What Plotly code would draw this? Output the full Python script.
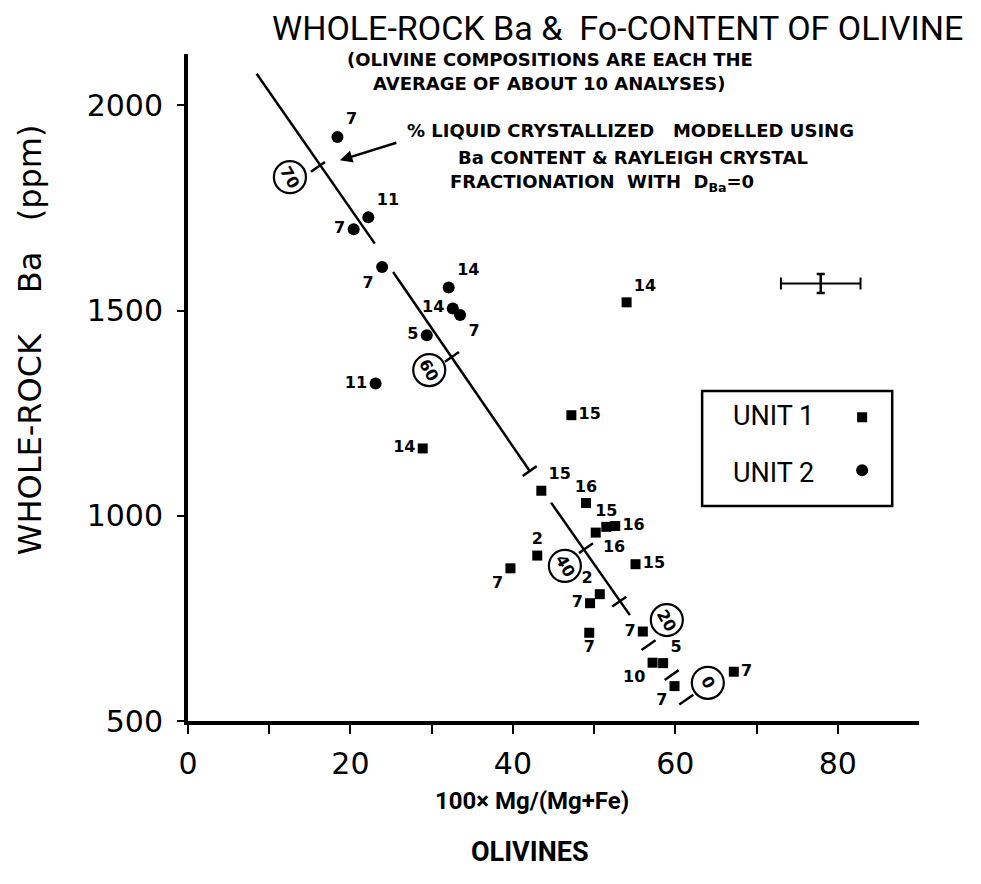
import plotly.graph_objects as go

# ---- data -------------------------------------------------------------
# Unit 1 samples (squares): olivine Fo content vs whole-rock Ba, with sample labels
unit1_fo = [54.0, 47.2, 28.9, 43.5, 49.0, 50.2, 51.5, 52.6, 43.0, 39.7,
            55.1, 50.7, 49.5, 49.4, 56.0, 57.2, 58.5, 59.9, 67.2]
unit1_ba = [1520, 1245, 1164, 1061, 1031, 959, 973, 975, 903, 872,
            882, 809, 787, 715, 718, 642, 641, 585, 620]
unit1_lbl = ["14", "15", "14", "15", "16", "16", "15", "16", "2", "7",
             "15", "2", "7", "7", "7", "10", "5", "7", "7"]

# Unit 2 samples (circles)
unit2_fo = [18.4, 22.2, 20.4, 23.9, 32.1, 32.6, 33.5, 29.4, 23.1]
unit2_ba = [1923, 1727, 1698, 1606, 1556, 1505, 1489, 1440, 1322]
unit2_lbl = ["7", "11", "7", "7", "14", "14", "7", "5", "11"]

# Rayleigh fractionation model (D_Ba = 0), drawn in three pieces
model_fo = [8.45, 23.0, None, 25.25, 42.07, None, 44.7, 54.4]
model_ba = [2077, 1663, None, 1594, 1109, None, 1032, 758]

# % liquid crystallized ticks along the model line
pct_steps = [70, 60, 50, 40, 30, 20, 10, 0]
pct_fo = [16.0, 32.5, 42.07, 49.0, 53.1, 56.7, 59.55, 61.35]
pct_ba = [1850, 1387, 1109, 921, 791, 685, 612, 552]

# circled labels for selected steps
circ_pct = ["70", "60", "40", "20", "0"]
circ_fo = [12.55, 29.7, 46.4, 58.95, 64.0]
circ_ba = [1825, 1355, 878, 746, 593]

# typical analytical uncertainty
err_fo, err_ba = 77.9, 1566
err_dfo, err_dba = 4.9, 23

x_ticks = [0, 20, 40, 60, 80]
y_ticks = [500, 1000, 1500, 2000]

# ---- placement of sample labels -------------------------------------
unit1_pos = ["top right", "middle right", "middle left", "top right", "top center",
             "bottom right", "top center", "middle right", "top center", "bottom left",
             "middle right", "top left", "middle left", "bottom center", "middle left",
             "bottom left", "top right", "bottom left", "middle right"]
unit2_pos = ["top right", "top right", "middle left", "bottom left", "top right",
             "middle left", "bottom right", "middle left", "middle left"]

LABEL_FONT = dict(family="DejaVu Sans", size=16, color="black", weight="bold")
SANS = "Roboto"
BOLD = "DejaVu Sans"


def txt(x, y, text, font, **kw):
    """Centered text annotation in paper coordinates."""
    d = dict(x=x, y=y, xref="paper", yref="paper", text=text, showarrow=False,
             xanchor="center", yanchor="middle", font=font)
    d.update(kw)
    return d


fig = go.Figure()

fig.add_trace(go.Scatter(
    x=model_fo, y=model_ba, mode="lines",
    line=dict(color="black", width=2.5), hoverinfo="skip", showlegend=False))

fig.add_trace(go.Scatter(
    x=unit1_fo, y=unit1_ba, mode="markers+text", name="UNIT 1",
    marker=dict(symbol="square", size=10, color="black"),
    text=unit1_lbl, textposition=unit1_pos, textfont=LABEL_FONT, showlegend=False))

fig.add_trace(go.Scatter(
    x=unit2_fo, y=unit2_ba, mode="markers+text", name="UNIT 2",
    marker=dict(symbol="circle", size=12, color="black"),
    text=unit2_lbl, textposition=unit2_pos, textfont=LABEL_FONT, showlegend=False))

fig.add_trace(go.Scatter(
    x=[err_fo], y=[err_ba], mode="markers",
    marker=dict(size=1, color="rgba(0,0,0,0)"),
    error_x=dict(type="constant", value=err_dfo, color="black", thickness=2, width=6),
    error_y=dict(type="constant", value=err_dba, color="black", thickness=2.5, width=4),
    hoverinfo="skip", showlegend=False))

shapes = []
# perpendicular tick marks on the model line
for fx, by in zip(pct_fo, pct_ba):
    shapes.append(dict(type="line", xref="x", yref="y",
                       xsizemode="pixel", ysizemode="pixel",
                       xanchor=fx, yanchor=by,
                       x0=-7, x1=7, y0=-4.9, y1=4.9,
                       line=dict(color="black", width=2.5)))

annotations = []
# circled percentage labels
for t, cx, cy in zip(circ_pct, circ_fo, circ_ba):
    shapes.append(dict(type="circle", xref="x", yref="y",
                       xsizemode="pixel", ysizemode="pixel",
                       xanchor=cx, yanchor=cy,
                       x0=-16, x1=16, y0=-16, y1=16,
                       line=dict(color="black", width=2.2)))
    annotations.append(dict(x=cx, y=cy, xref="x", yref="y", text="<b>" + t + "</b>",
                            showarrow=False, xanchor="center", yanchor="middle",
                            textangle=60, font=dict(family=BOLD, size=16, color="black")))

# key box
shapes.append(dict(type="rect", xref="x", yref="y", x0=63.3, x1=86.7, y0=1024, y1=1304,
                   line=dict(color="black", width=2.5)))
shapes.append(dict(type="rect", xref="x", yref="y", xsizemode="pixel", ysizemode="pixel",
                   xanchor=83.0, yanchor=1240, x0=-5, x1=5, y0=-5, y1=5,
                   fillcolor="black", line=dict(width=0)))
shapes.append(dict(type="circle", xref="x", yref="y", xsizemode="pixel", ysizemode="pixel",
                   xanchor=83.0, yanchor=1111, x0=-6, x1=6, y0=-6, y1=6,
                   fillcolor="black", line=dict(width=0)))
annotations += [
    dict(x=66.9, y=1243, xref="x", yref="y", text="UNIT 1", showarrow=False,
         xanchor="left", yanchor="middle", font=dict(family=SANS, size=27, color="black")),
    dict(x=66.9, y=1104, xref="x", yref="y", text="UNIT 2", showarrow=False,
         xanchor="left", yanchor="middle", font=dict(family=SANS, size=27, color="black")),
]

# titles
sub_font = dict(family=BOLD, size=18, color="black")
annotations += [
    txt(0.588, 1.0384, "WHOLE-ROCK Ba &amp;\u00a0\u00a0Fo-CONTENT OF OLIVINE",
        dict(family=SANS, size=34, color="black")),
    txt(0.495, 0.9925, "<b>(OLIVINE COMPOSITIONS ARE EACH THE</b>", sub_font),
    txt(0.494, 0.9551, "<b>AVERAGE OF ABOUT 10 ANALYSES)</b>", sub_font),
]

# model note with arrow
note_font = dict(family=BOLD, size=18, color="black")
annotations += [
    txt(0.605, 0.885, "<b>%\u00a0LIQUID CRYSTALLIZED\u00a0\u00a0\u00a0MODELLED USING</b>", note_font),
    txt(0.609, 0.845, "<b>Ba CONTENT &amp; RAYLEIGH CRYSTAL</b>", note_font),
    txt(0.566, 0.806, "<b>FRACTIONATION\u00a0\u00a0WITH\u00a0\u00a0D<sub>Ba</sub>=0</b>", note_font),
    dict(x=18.7, y=1866, xref="x", yref="y", ax=58, ay=-18, text="",
         showarrow=True, arrowhead=2, arrowsize=1, arrowwidth=2.5, arrowcolor="black"),
]

# axis titles
annotations += [
    txt(-0.216, 0.571, "WHOLE-ROCK\u00a0\u00a0\u00a0\u00a0Ba\u00a0\u00a0\u00a0(ppm)",
        dict(family="DejaVu Sans", size=32, color="black"), textangle=-90),
    txt(0.471, -0.12, "<b>100× Mg/(Mg+Fe)</b>", dict(family=SANS, size=24, color="black")),
    txt(0.468, -0.196, "<b>OLIVINES</b>", dict(family=SANS, size=27, color="black")),
]

fig.update_layout(
    width=981, height=884,
    margin=dict(l=188, r=62, t=54, b=163, pad=0),
    paper_bgcolor="white", plot_bgcolor="white",
    shapes=shapes, annotations=annotations,
    showlegend=False,
    xaxis=dict(range=[0, 90], tickvals=x_ticks, ticks="outside", ticklen=9, tickwidth=2,
               tickcolor="black", showline=True, linewidth=4, linecolor="black",
               showgrid=False, zeroline=False, ticklabelstandoff=4,
               minor=dict(tickvals=[10, 30, 50, 70], ticks="outside", ticklen=9,
                          tickwidth=2, tickcolor="black", showgrid=False),
               tickfont=dict(family="DejaVu Sans", size=30, color="black")),
    yaxis=dict(range=[500, 2125], tickvals=y_ticks, ticks="outside", ticklen=7, tickwidth=2,
               tickcolor="black", showline=True, linewidth=4, linecolor="black",
               showgrid=False, zeroline=False, ticklabelstandoff=8,
               tickfont=dict(family="DejaVu Sans", size=30, color="black")),
)

fig.write_html("out.html")
